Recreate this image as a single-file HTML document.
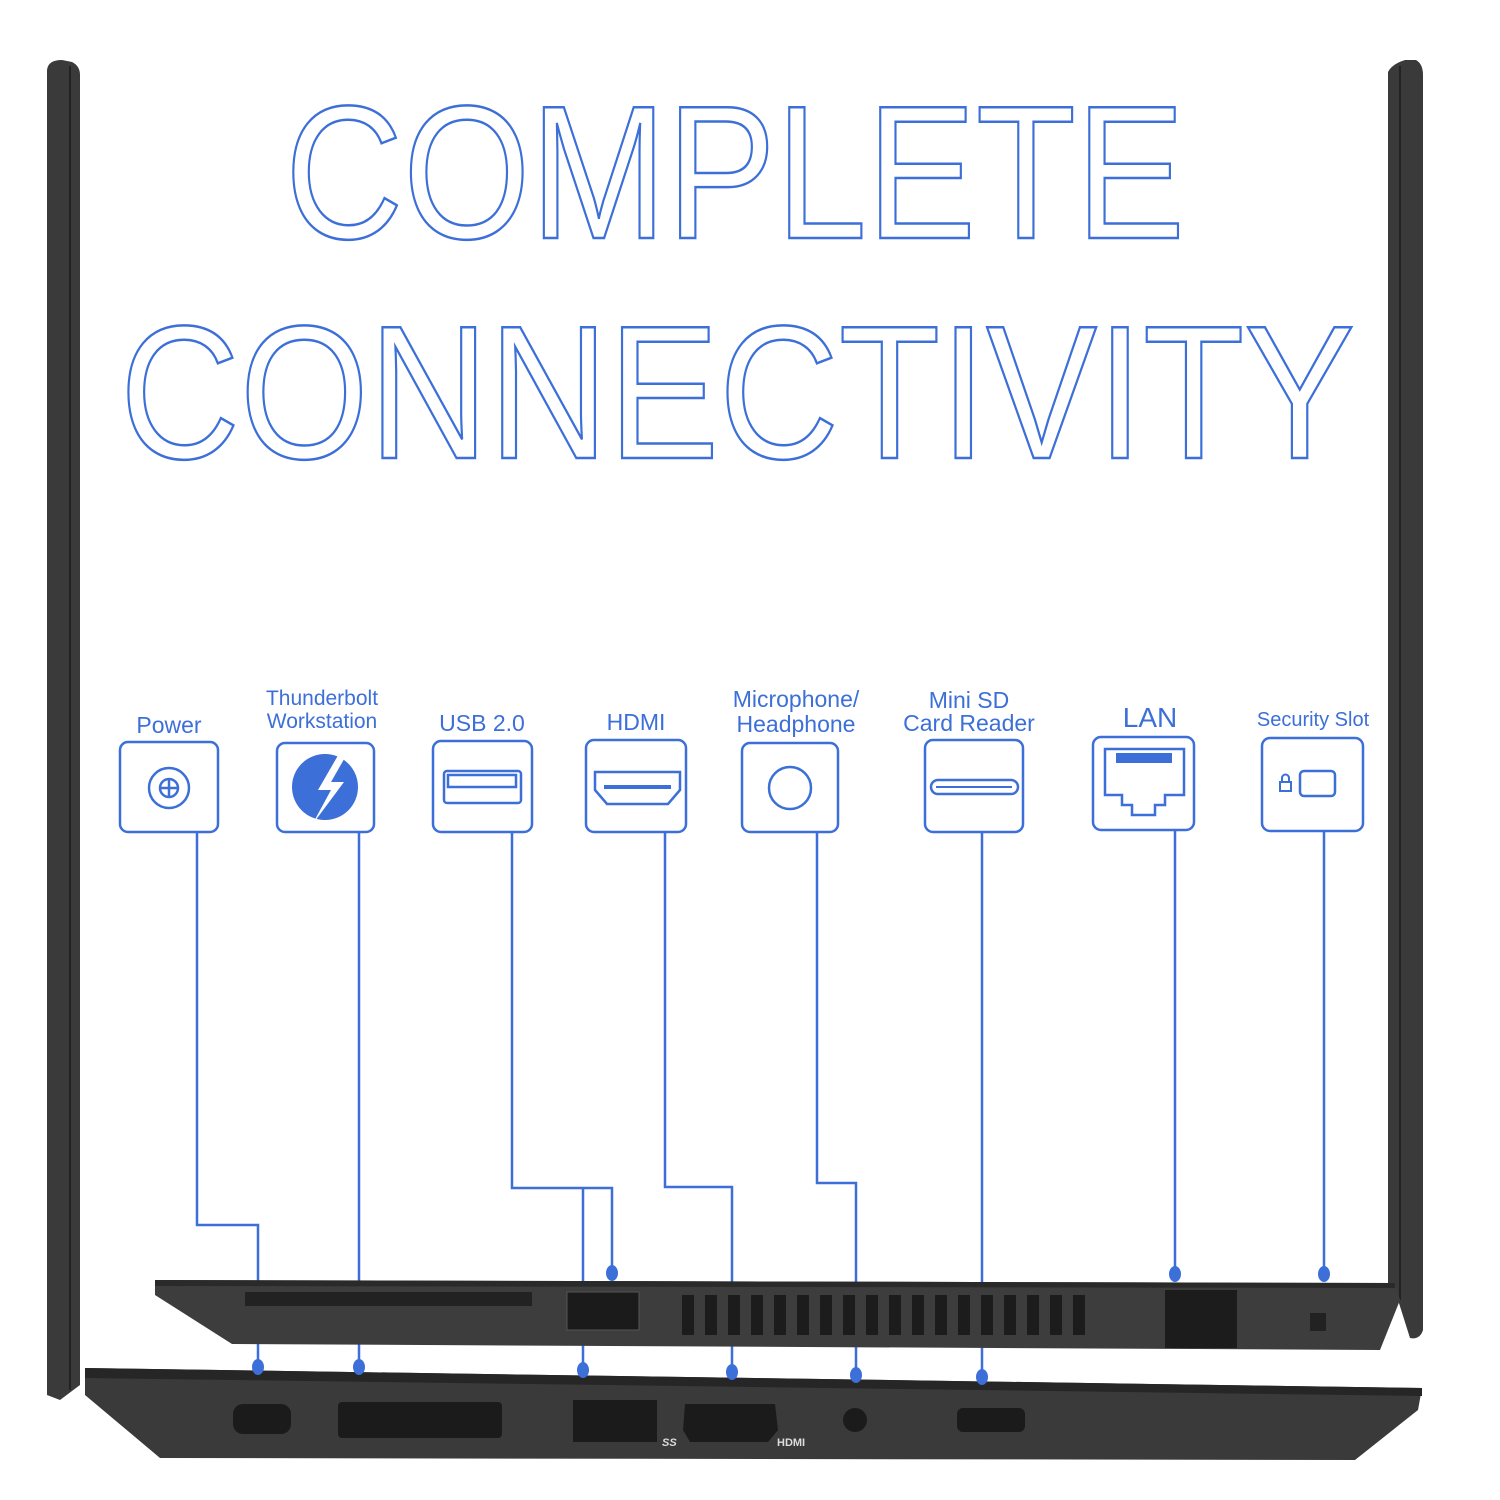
<!DOCTYPE html>
<html><head><meta charset="utf-8"><style>
html,body{margin:0;padding:0;background:#fff;width:1500px;height:1500px;overflow:hidden}
svg{display:block}
</style></head><body>
<svg width="1500" height="1500" viewBox="0 0 1500 1500" xmlns="http://www.w3.org/2000/svg" font-family="'Liberation Sans', sans-serif">
<rect width="1500" height="1500" fill="#fff"/>
<!-- screen bezels -->
<path d="M47,70 Q48,60 62,60 L72,62 Q80,66 80,75 L80,1385 L60,1400 L47,1395 Z" fill="#3a3a3a"/>
<line x1="70" y1="66" x2="70" y2="1390" stroke="#222" stroke-width="2"/>
<path d="M1388,72 Q1392,64 1405,60 L1416,60 Q1423,64 1423,75 L1423,1330 Q1420,1340 1410,1338 L1398,1300 L1388,1290 Z" fill="#3a3a3a"/>
<line x1="1400" y1="66" x2="1400" y2="1300" stroke="#222" stroke-width="2"/>
<!-- title -->
<g fill="none" stroke="#3c6fd8" stroke-width="2.5">
<text x="285" y="238" font-size="190" textLength="900" lengthAdjust="spacingAndGlyphs">COMPLETE</text>
<text x="120" y="458" font-size="190" textLength="1235" lengthAdjust="spacingAndGlyphs">CONNECTIVITY</text>
</g>
<!-- labels -->
<g fill="#3c6fd8" font-size="23" text-anchor="middle">
<text x="169" y="733">Power</text>
<text x="322" y="705" font-size="21">Thunderbolt</text>
<text x="322" y="728" font-size="21">Workstation</text>
<text x="482" y="731">USB 2.0</text>
<text x="636" y="730">HDMI</text>
<text x="796" y="707">Microphone/</text>
<text x="796" y="732">Headphone</text>
<text x="969" y="708">Mini SD</text>
<text x="969" y="731">Card Reader</text>
<text x="1150" y="727" font-size="28">LAN</text>
<text x="1313" y="726" font-size="20">Security Slot</text>
</g>
<!-- boxes -->
<g fill="none" stroke="#3c6fd8" stroke-width="2.5">
<rect x="120" y="742" width="98" height="90" rx="8"/>
<rect x="277" y="743" width="97" height="89" rx="8"/>
<rect x="433" y="741" width="99" height="91" rx="8"/>
<rect x="586" y="740" width="100" height="92" rx="8"/>
<rect x="742" y="743" width="96" height="89" rx="8"/>
<rect x="925" y="740" width="98" height="92" rx="8"/>
<rect x="1093" y="737" width="101" height="93" rx="8"/>
<rect x="1262" y="738" width="101" height="93" rx="8"/>
<circle cx="169" cy="788" r="20"/>
<circle cx="169" cy="788" r="9"/>
<line x1="160" y1="788" x2="178" y2="788"/><line x1="169" y1="779" x2="169" y2="797"/>
<rect x="444" y="771" width="77" height="32" rx="3"/>
<rect x="448" y="775" width="68" height="12"/>
<path d="M595,772 L680,772 L680,790 L668,804 L607,804 L595,790 Z"/>
<circle cx="790" cy="788" r="21"/>
<rect x="931" y="780" width="87" height="14" rx="7"/>
<path d="M1105,749 L1184,749 L1184,795 L1165,795 L1165,805 L1155,805 L1155,815 L1132,815 L1132,805 L1122,805 L1122,795 L1105,795 Z"/>
<rect x="1300" y="771" width="35" height="25" rx="4"/>
</g>
<circle cx="325" cy="787" r="33" fill="#3c6fd8"/>
<path d="M340,752 L318,790 L331,790 L312,825 L344,782 L331,782 L347,754 Z" fill="#fff"/>
<rect x="604" y="785" width="67" height="4" fill="#3c6fd8"/>
<rect x="936" y="786" width="76" height="2" fill="#3c6fd8"/>
<rect x="1116" y="753" width="56" height="10" fill="#3c6fd8"/>
<rect x="1280" y="782" width="11" height="9" fill="none" stroke="#3c6fd8" stroke-width="2"/>
<path d="M1282,782 V778 A3.5,3.5 0 0 1 1289,778 V782" fill="none" stroke="#3c6fd8" stroke-width="2"/>
<!-- connector lines -->
<g fill="none" stroke="#3c6fd8" stroke-width="2.5">
<path d="M197,832 V1225 H258 V1365"/>
<path d="M359,832 V1365"/>
<path d="M512,832 V1188 H612 V1273"/>
<path d="M583,1188 V1368"/>
<path d="M665,832 V1187 H732 V1370"/>
<path d="M817,832 V1183 H856 V1373"/>
<path d="M982,832 V1375"/>
<path d="M1175,830 V1273"/>
<path d="M1324,831 V1274"/>
</g>
<!-- top laptop -->
<path d="M155,1280 L1395,1283 L1400,1300 L1380,1350 L232,1344 L155,1295 Z" fill="#3d3d3d"/>
<path d="M155,1280 L1395,1283 L1395,1288 L155,1286 Z" fill="#2a2a2a"/>
<rect x="245" y="1292" width="287" height="14" fill="#222"/>
<rect x="567" y="1292" width="72" height="38" fill="#1b1b1b" stroke="#555"/>
<g fill="#1c1c1c">
<rect x="682" y="1295" width="12" height="40"/><rect x="705" y="1295" width="12" height="40"/><rect x="728" y="1295" width="12" height="40"/><rect x="751" y="1295" width="12" height="40"/><rect x="774" y="1295" width="12" height="40"/><rect x="797" y="1295" width="12" height="40"/><rect x="820" y="1295" width="12" height="40"/><rect x="843" y="1295" width="12" height="40"/><rect x="866" y="1295" width="12" height="40"/><rect x="889" y="1295" width="12" height="40"/><rect x="912" y="1295" width="12" height="40"/><rect x="935" y="1295" width="12" height="40"/><rect x="958" y="1295" width="12" height="40"/><rect x="981" y="1295" width="12" height="40"/><rect x="1004" y="1295" width="12" height="40"/><rect x="1027" y="1295" width="12" height="40"/><rect x="1050" y="1295" width="12" height="40"/><rect x="1073" y="1295" width="12" height="40"/>
</g>
<rect x="1165" y="1290" width="72" height="58" fill="#1c1c1c"/>
<rect x="1310" y="1313" width="16" height="18" fill="#222"/>
<!-- bottom laptop -->
<path d="M85,1368 L1422,1388 L1418,1410 L1355,1460 L160,1458 L85,1395 Z" fill="#3a3a3a"/>
<path d="M85,1368 L1422,1388 L1422,1396 L85,1378 Z" fill="#262626"/>
<rect x="233" y="1404" width="58" height="30" rx="10" fill="#1b1b1b"/>
<rect x="338" y="1402" width="164" height="36" rx="4" fill="#1b1b1b"/>
<rect x="573" y="1400" width="84" height="42" fill="#1b1b1b"/>
<path d="M685,1404 L775,1404 L778,1430 L768,1442 L690,1442 L683,1430 Z" fill="#1b1b1b"/>
<circle cx="855" cy="1420" r="12" fill="#1b1b1b"/>
<rect x="957" y="1408" width="68" height="24" rx="6" fill="#1b1b1b"/>
<g fill="#ddd" font-size="11" font-weight="bold"><text x="777" y="1446">HDMI</text><text x="662" y="1446" font-style="italic">SS</text></g>
<!-- dots -->
<g fill="#3c6fd8">
<ellipse cx="258" cy="1367" rx="6" ry="8"/><ellipse cx="359" cy="1367" rx="6" ry="8"/>
<ellipse cx="583" cy="1370" rx="6" ry="8"/><ellipse cx="732" cy="1372" rx="6" ry="8"/>
<ellipse cx="856" cy="1375" rx="6" ry="8"/><ellipse cx="982" cy="1377" rx="6" ry="8"/>
<ellipse cx="612" cy="1273" rx="6" ry="8"/><ellipse cx="1175" cy="1274" rx="6" ry="8"/>
<ellipse cx="1324" cy="1274" rx="6" ry="8"/>
</g>
</svg>
</body></html>
